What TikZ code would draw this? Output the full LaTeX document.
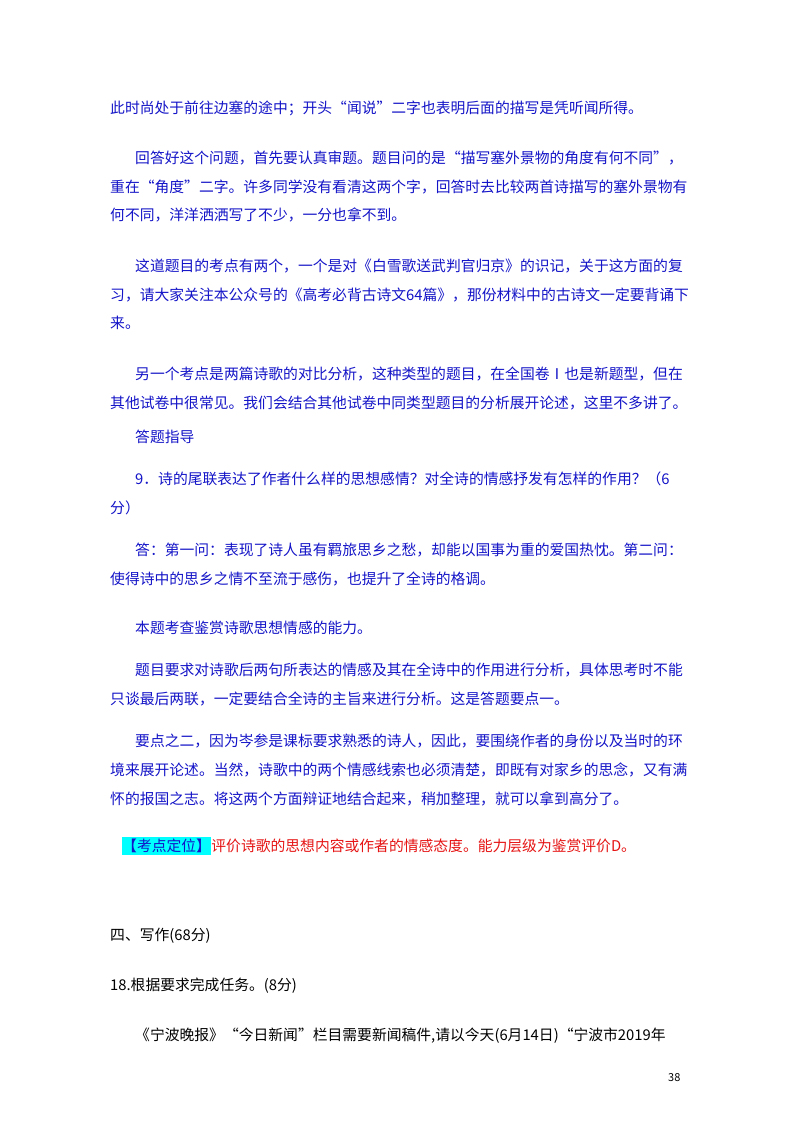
\documentclass[tikz,border=0pt]{standalone}
\usepackage{fontspec}
\setmainfont{Noto Sans CJK SC}
\definecolor{tblue}{RGB}{20,20,200}
\definecolor{tred}{RGB}{230,20,20}
\definecolor{tcyan}{RGB}{0,255,255}
\begin{document}
\begin{tikzpicture}[x=1pt,y=-1pt,
  ln/.style={anchor=west,inner sep=0pt,font=\fontsize{14.8}{14.8}\selectfont,text=tblue},
  bk/.style={ln,text=black}]
\useasboundingbox (0,0) rectangle (800,1132);
\fill[white] (0,0) rectangle (800,1132);
\node[ln] (l1) at (110,108) {此时尚处于前往边塞的途中；开头“闻说”二字也表明后面的描写是凭听闻所得。};
\node[ln] (l2) at (135,158) {回答好这个问题，首先要认真审题。题目问的是“描写塞外景物的角度有何不同”，};
\node[ln] (l3) at (110,187) {重在“角度”二字。许多同学没有看清这两个字，回答时去比较两首诗描写的塞外景物有};
\node[ln] (l4) at (110,215) {何不同，洋洋洒洒写了不少，一分也拿不到。};
\node[ln] (l5) at (135,266) {这道题目的考点有两个，一个是对《白雪歌送武判官归京》的识记，关于这方面的复};
\node[ln] (l6) at (110,295) {习，请大家关注本公众号的《高考必背古诗文64篇》，那份材料中的古诗文一定要背诵下};
\node[ln] (l7) at (110,323) {来。};
\node[ln] (l8) at (135,374) {另一个考点是两篇诗歌的对比分析，这种类型的题目，在全国卷Ⅰ也是新题型，但在};
\node[ln] (l9) at (110,403) {其他试卷中很常见。我们会结合其他试卷中同类型题目的分析展开论述，这里不多讲了。};
\node[ln] (l10) at (135,437) {答题指导};
\node[ln] (l11) at (135,479) {9．诗的尾联表达了作者什么样的思想感情？对全诗的情感抒发有怎样的作用？（6};
\node[ln] (l12) at (110,508) {分）};
\node[ln] (l13) at (135,550) {答：第一问：表现了诗人虽有羁旅思乡之愁，却能以国事为重的爱国热忱。第二问：};
\node[ln] (l14) at (110,579) {使得诗中的思乡之情不至流于感伤，也提升了全诗的格调。};
\node[ln] (l15) at (135,628) {本题考查鉴赏诗歌思想情感的能力。};
\node[ln] (l16) at (135,670) {题目要求对诗歌后两句所表达的情感及其在全诗中的作用进行分析，具体思考时不能};
\node[ln] (l17) at (110,699) {只谈最后两联，一定要结合全诗的主旨来进行分析。这是答题要点一。};
\node[ln] (l18) at (135,741) {要点之二，因为岑参是课标要求熟悉的诗人，因此，要围绕作者的身份以及当时的环};
\node[ln] (l19) at (110,770) {境来展开论述。当然，诗歌中的两个情感线索也必须清楚，即既有对家乡的思念，又有满};
\node[ln] (l20) at (110,799) {怀的报国之志。将这两个方面辩证地结合起来，稍加整理，就可以拿到高分了。};
\node[ln,fill=tcyan,inner ysep=2pt] (kd) at (122,846) {【考点定位】};
\node[ln,text=tred,anchor=west] (kdt) at (kd.east) {评价诗歌的思想内容或作者的情感态度。能力层级为鉴赏评价D。};
\node[bk] (w1) at (110,936) {四、写作(68分)};
\node[bk] (w2) at (110,986) {18.根据要求完成任务。(8分)};
\node[bk] (w3) at (135,1036) {《宁波晚报》“今日新闻”栏目需要新闻稿件,请以今天(6月14日)“宁波市2019年};
\node[bk,font=\fontsize{11}{11}\selectfont] (pg) at (668,1078) {38};
\end{tikzpicture}
\end{document}
